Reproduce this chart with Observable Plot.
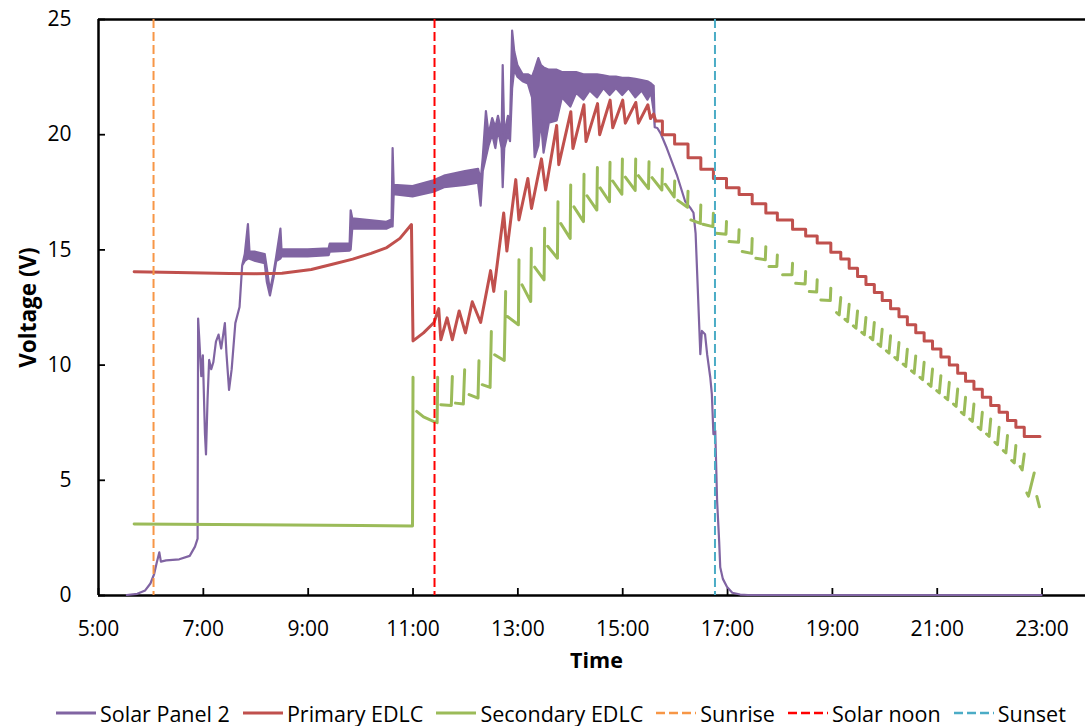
<!DOCTYPE html>
<html>
<head>
<meta charset="utf-8">
<script src="https://cdn.jsdelivr.net/npm/d3@7"></script>
<script src="https://cdn.jsdelivr.net/npm/@observablehq/plot@0.6"></script>
<style>
  html, body { margin: 0; padding: 0; background: #fff; overflow: hidden; }
  #wrap { position: relative; width: 1085px; height: 726px; overflow: hidden; font-family: "Open Sans", sans-serif; }
  #legend { position: absolute; left: 56px; top: 690px; height: 46px; display: flex; align-items: center; font-size: 21.5px; color: #000; white-space: nowrap; }
  #legend .item { display: flex; align-items: center; margin-right: 13px; }
  #legend svg { display: block; margin-right: 4px; }
</style>
</head>
<body>
<div id="wrap"><div id="chart"></div><div id="legend"></div></div>
<script>
// ---- Data (time in hours of day, voltage in V) ----
const xTicks = [5, 7, 9, 11, 13, 15, 17, 19, 21, 23];
const yTicks = [0, 5, 10, 15, 20, 25];

const sunrise = 6.05;
const solarNoon = 11.41;
const sunset = 16.76;

// Solar Panel 2: noisy band given as low / high envelope
const solarTime = [5.55, 5.75, 5.9, 6.0, 6.07, 6.12, 6.17, 6.20, 6.30, 6.55, 6.75, 6.85, 6.90, 6.91, 6.93, 6.97, 7.00, 7.04, 7.06, 7.09, 7.12, 7.16, 7.20, 7.25, 7.30, 7.35, 7.42, 7.45, 7.50, 7.55, 7.62, 7.70, 7.75, 7.80, 7.86, 7.89, 8.00, 8.18, 8.22, 8.28, 8.35, 8.40, 8.48, 8.50, 9.00, 9.40, 9.42, 9.80, 9.82, 9.85, 10.50, 10.60, 10.62, 10.64, 11.00, 11.40, 11.60, 12.00, 12.25, 12.30, 12.34, 12.40, 12.45, 12.52, 12.58, 12.63, 12.70, 12.72, 12.75, 12.82, 12.86, 12.90, 12.94, 13.00, 13.10, 13.20, 13.28, 13.33, 13.40, 13.45, 13.50, 13.60, 13.75, 13.85, 14.01, 14.12, 14.26, 14.38, 14.52, 14.64, 14.76, 14.88, 15.00, 15.12, 15.25, 15.37, 15.48, 15.55, 15.60, 15.62, 15.67, 15.73, 15.85, 16.04, 16.20, 16.30, 16.36, 16.40, 16.45, 16.49, 16.52, 16.58, 16.62, 16.68, 16.71, 16.74, 16.775, 16.81, 16.83, 16.85, 16.87, 16.92, 17.00, 17.10, 17.25, 17.40, 23.00];
const solarLow  = [0, 0.05, 0.2, 0.5, 0.9, 1.4, 1.85, 1.45, 1.5, 1.55, 1.7, 2.1, 2.45, 12.0, 11.2, 9.5, 10.4, 7.0, 6.1, 8.5, 10.2, 9.8, 10.1, 11.0, 11.3, 10.7, 11.8, 10.5, 8.9, 9.8, 11.8, 12.5, 14.3, 14.5, 14.6, 14.6, 14.5, 14.4, 13.6, 13.0, 13.8, 14.5, 14.6, 14.7, 14.7, 14.75, 14.9, 14.95, 15.0, 15.9, 15.9, 16.0, 16.0, 17.4, 17.3, 17.5, 17.7, 17.8, 17.9, 16.9, 18.4, 19.0, 19.5, 20.0, 19.4, 20.2, 19.4, 17.7, 19.4, 20.0, 19.7, 22.0, 22.8, 22.5, 22.3, 22.2, 21.6, 19.0, 19.5, 20.6, 19.2, 20.5, 20.6, 21.6, 21.2, 21.8, 21.5, 21.9, 21.6, 22.0, 21.7, 22.0, 21.7, 22.0, 21.6, 21.9, 21.5, 21.8, 21.0, 20.3, 20.27, 20.05, 19.4, 18.25, 17.09, 16.8, 16.59, 15.7, 12.8, 10.45, 11.46, 11.32, 10.45, 9.44, 8.72, 6.98, 7.13, 4.1, 3.2, 2.3, 1.2, 0.7, 0.35, 0.1, 0.02, 0, 0];
const solarHigh = [0, 0.05, 0.2, 0.5, 0.9, 1.4, 1.85, 1.45, 1.5, 1.55, 1.7, 2.1, 2.45, 12.0, 11.2, 9.5, 10.4, 7.0, 6.1, 8.5, 10.2, 9.8, 10.1, 11.0, 11.3, 10.7, 11.8, 10.5, 8.9, 9.8, 11.8, 12.5, 14.3, 14.8, 16.1, 14.9, 14.9, 14.8, 14.2, 13.2, 14.0, 14.7, 15.9, 15.0, 15.0, 15.05, 15.25, 15.25, 16.7, 16.35, 16.2, 16.3, 19.4, 17.8, 17.75, 18.0, 18.2, 18.4, 18.5, 18.0, 19.0, 21.0, 20.0, 20.7, 20.3, 20.8, 20.0, 23.0, 20.0, 20.8, 20.3, 24.5, 23.6, 23.0, 22.6, 22.6, 22.5, 22.8, 23.3, 23.0, 22.9, 22.8, 22.8, 22.7, 22.7, 22.7, 22.6, 22.6, 22.6, 22.55, 22.5, 22.5, 22.45, 22.45, 22.4, 22.35, 22.3, 22.2, 22.1, 20.3, 20.27, 20.05, 19.4, 18.25, 17.09, 16.8, 16.59, 15.7, 12.8, 10.45, 11.46, 11.32, 10.45, 9.44, 8.72, 6.98, 7.13, 4.1, 3.2, 2.3, 1.2, 0.7, 0.35, 0.1, 0.02, 0, 0];

// Primary EDLC: morning curve and midday sawtooth
const primaryTime = [5.68, 6.5, 7.5, 8.0, 8.5, 9.06, 9.5, 9.85, 10.2, 10.5, 10.75, 10.97, 11.0, 11.2, 11.40, 11.49, 11.53, 11.65, 11.75, 11.88, 12.0, 12.13, 12.29, 12.48, 12.54, 12.73, 12.79, 12.96, 13.02, 13.19, 13.26, 13.45, 13.53, 13.74, 13.78, 14.01, 14.05, 14.26, 14.30, 14.52, 14.56, 14.76, 14.81, 15.0, 15.05, 15.25, 15.30, 15.48, 15.53, 15.59, 15.63];
const primaryVolt = [14.05, 14.02, 13.98, 13.97, 13.99, 14.15, 14.4, 14.6, 14.85, 15.1, 15.5, 16.1, 11.05, 11.4, 11.85, 12.45, 11.1, 12.05, 11.1, 12.35, 11.4, 12.75, 11.85, 14.1, 13.2, 16.6, 14.95, 18.05, 16.3, 18.1, 16.8, 18.95, 17.6, 20.4, 18.7, 21.0, 19.4, 21.3, 19.7, 21.35, 20.0, 21.5, 20.3, 21.5, 20.5, 21.4, 20.5, 21.3, 20.7, 20.9, 20.6];
// Primary EDLC: afternoon / evening staircase
const primaryStepTime = [15.63, 15.757, 15.99, 16.246, 16.49, 16.73, 16.98, 17.22, 17.47, 17.73, 17.95, 18.24, 18.49, 18.71, 18.97, 19.16, 19.32, 19.48, 19.64, 19.80, 19.95, 20.11, 20.27, 20.43, 20.59, 20.75, 20.91, 21.07, 21.23, 21.39, 21.54, 21.70, 21.86, 22.02, 22.18, 22.34, 22.50, 22.66, 22.96];
const primaryStepVolt = [20.6, 20.0, 19.6, 19.0, 18.5, 18.1, 17.7, 17.4, 17.0, 16.6, 16.3, 15.9, 15.6, 15.3, 14.9, 14.6, 14.2, 13.85, 13.5, 13.15, 12.8, 12.45, 12.1, 11.75, 11.4, 11.05, 10.7, 10.35, 10.0, 9.65, 9.3, 8.95, 8.6, 8.25, 7.95, 7.6, 7.3, 6.9, 6.9];

// Secondary EDLC: pieces separated by null (gaps in the record)
const secondaryTime = [5.68, 8.0, 10.0, 10.99, 11.0, null,
  11.07, 11.2, 11.40, 11.46, 11.47, null,
  11.53, 11.73, 11.75, null,
  11.81, 11.96, 11.985, null,
  12.07, 12.24, 12.258, null,
  12.32, 12.47, 12.494, null,
  12.557, 12.74, 12.767, null,
  12.80, 13.01, 13.021, null,
  13.08, 13.245, 13.257, null,
  13.32, 13.50, 13.511, null,
  13.57, 13.755, 13.765, null,
  13.82, 13.998, 14.008, null,
  14.07, 14.252, 14.262, null,
  14.32, 14.507, 14.517, null,
  14.57, 14.748, 14.758, null,
  14.81, 14.984, 14.994, null,
  15.05, 15.238, 15.248, null,
  15.30, 15.492, 15.502, null,
  15.56, 15.747, 15.757, null,
  15.81, 15.982, 15.992, null,
  16.05, 16.236, 16.246, null,
  16.30, 16.48, 16.49, null,
  16.53, 16.72, 16.73, null,
  16.78, 16.97, 16.98, null,
  17.03, 17.21, 17.22, null,
  17.28, 17.46, 17.47, null,
  17.54, 17.72, 17.73, null,
  17.79, 17.94, 17.95, null,
  18.05, 18.23, 18.24, null,
  18.30, 18.48, 18.49, null,
  18.56, 18.70, 18.71, null,
  18.78, 18.96, 18.97, null,
  19.08, 19.13, 19.16, null,
  19.24, 19.29, 19.32, null,
  19.40, 19.45, 19.48, null,
  19.56, 19.61, 19.64, null,
  19.72, 19.77, 19.80, null,
  19.87, 19.92, 19.95, null,
  20.03, 20.08, 20.11, null,
  20.19, 20.24, 20.27, null,
  20.35, 20.40, 20.43, null,
  20.51, 20.56, 20.59, null,
  20.67, 20.72, 20.75, null,
  20.83, 20.88, 20.91, null,
  20.99, 21.04, 21.07, null,
  21.15, 21.20, 21.23, null,
  21.31, 21.36, 21.39, null,
  21.46, 21.51, 21.54, null,
  21.62, 21.67, 21.70, null,
  21.78, 21.83, 21.86, null,
  21.94, 21.99, 22.02, null,
  22.10, 22.15, 22.18, null,
  22.26, 22.31, 22.34, null,
  22.42, 22.47, 22.50, null,
  22.58, 22.62, 22.66, null,
  22.71, 22.74, 22.85, null,
  22.90, 22.95];
const secondaryVolt = [3.10, 3.07, 3.04, 3.02, 9.47, null,
  7.99, 7.75, 7.55, 7.50, 9.47, null,
  8.28, 8.25, 9.51, null,
  8.35, 8.31, 9.80, null,
  8.72, 8.57, 10.19, null,
  9.15, 9.03, 11.46, null,
  10.45, 10.2, 13.19, null,
  12.11, 11.75, 14.57, null,
  13.48, 12.76, 15.07, null,
  14.25, 13.70, 15.94, null,
  15.16, 14.64, 17.09, null,
  16.14, 15.50, 17.82, null,
  16.87, 16.23, 18.28, null,
  17.35, 16.73, 18.58, null,
  17.69, 17.09, 18.80, null,
  17.99, 17.42, 18.94, null,
  18.16, 17.58, 18.94, null,
  18.22, 17.66, 18.83, null,
  18.14, 17.60, 18.51, null,
  17.85, 17.30, 17.99, null,
  17.15, 16.85, 17.55, null,
  16.30, 16.15, 16.95, null,
  16.11, 16.01, 16.59, null,
  15.72, 15.68, 16.23, null,
  15.36, 15.33, 15.87, null,
  14.93, 14.85, 15.50, null,
  14.64, 14.57, 15.14, null,
  14.28, 14.28, 14.78, null,
  13.92, 13.92, 14.42, null,
  13.55, 13.52, 14.06, null,
  13.19, 13.17, 13.70, null,
  12.83, 12.80, 13.34, null,
  12.28, 12.18, 12.93, null,
  11.99, 11.89, 12.64, null,
  11.70, 11.60, 12.35, null,
  11.42, 11.32, 12.07, null,
  11.20, 11.10, 11.85, null,
  10.91, 10.81, 11.56, null,
  10.62, 10.52, 11.27, null,
  10.33, 10.23, 10.98, null,
  10.04, 9.94, 10.69, null,
  9.75, 9.65, 10.40, null,
  9.47, 9.37, 10.12, null,
  9.18, 9.08, 9.83, null,
  8.89, 8.79, 9.54, null,
  8.60, 8.50, 9.25, null,
  8.31, 8.21, 8.96, null,
  7.95, 7.85, 8.60, null,
  7.66, 7.56, 8.31, null,
  7.30, 7.20, 7.95, null,
  7.01, 6.91, 7.66, null,
  6.65, 6.55, 7.30, null,
  6.29, 6.19, 6.94, null,
  5.86, 5.76, 6.51, null,
  5.60, 5.45, 6.14, null,
  4.45, 4.31, 5.32, null,
  4.30, 3.85];

const seriesNames = ["Solar Panel 2", "Primary EDLC", "Secondary EDLC", "Sunrise", "Solar noon", "Sunset"];
const seriesColors = ["#8064A2", "#C0504D", "#9BBB59", "#F79646", "#FF0000", "#4BACC6"];
const seriesDashed = [false, false, false, true, true, true];

// ---- Tables built from the arrays ----
const solar = solarTime.map((t, i) => ({t, lo: solarLow[i], hi: solarHigh[i]}));
const primary = primaryTime.map((t, i) => ({t, v: primaryVolt[i]}));
const primarySteps = primaryStepTime.map((t, i) => ({t, v: primaryStepVolt[i]}));
const secondary = secondaryTime.map((t, i) => ({t, v: secondaryVolt[i]}));
const dash = "9,4";

const W = 1094, H = 690, ML = 98, MR = 0, MT = 19, MB = 95, TICK = 7;

const chart = Plot.plot({
  width: W,
  height: H,
  marginLeft: ML,
  marginRight: MR,
  marginTop: MT,
  marginBottom: MB,
  style: {fontFamily: "'Open Sans', sans-serif", fontSize: "21px", color: "#000", background: "#fff", maxWidth: "none", overflow: "visible"},
  x: {domain: [5, 24], label: null},
  y: {domain: [0, 25], label: null},
  marks: [
    Plot.axisX({ticks: xTicks, tickFormat: d => `${d}:00`, tickSize: 0, tickPadding: 26, label: null}),
    Plot.axisY({ticks: yTicks, tickSize: 0, tickPadding: 27, label: null}),
    // inward tick marks
    Plot.ruleX(xTicks, {stroke: "#000", strokeWidth: 1.8, insetTop: (H - MT - MB) - TICK}),
    Plot.ruleY(yTicks, {stroke: "#000", strokeWidth: 1.8, insetRight: (W - ML - MR) - TICK}),
    Plot.ruleY([0], {stroke: "#000", strokeWidth: 2.5}),
    Plot.ruleY([25], {stroke: "#000", strokeWidth: 2.5}),
    Plot.ruleX([5], {stroke: "#000", strokeWidth: 2.5}),
    Plot.areaY(solar, {x: "t", y1: "lo", y2: "hi", fill: seriesColors[0], stroke: seriesColors[0], strokeWidth: 2.2, strokeLinejoin: "round"}),
    Plot.line(primary, {x: "t", y: "v", stroke: seriesColors[1], strokeWidth: 3, strokeLinejoin: "round", strokeLinecap: "round"}),
    Plot.line(primarySteps, {x: "t", y: "v", curve: "step-after", stroke: seriesColors[1], strokeWidth: 3, strokeLinejoin: "round", strokeLinecap: "round"}),
    Plot.line(secondary, {x: "t", y: "v", stroke: seriesColors[2], strokeWidth: 3, strokeLinejoin: "round", strokeLinecap: "round"}),
    Plot.ruleX([sunrise], {stroke: seriesColors[3], strokeWidth: 2, strokeDasharray: dash}),
    Plot.ruleX([solarNoon], {stroke: seriesColors[4], strokeWidth: 2, strokeDasharray: dash}),
    Plot.ruleX([sunset], {stroke: seriesColors[5], strokeWidth: 2, strokeDasharray: dash}),
    Plot.text(["Time"], {frameAnchor: "bottom", dy: 66, lineAnchor: "middle", textAnchor: "middle", fontWeight: "bold", fontSize: 21.5}),
    Plot.text(["Voltage (V)"], {frameAnchor: "left", dx: -70, rotate: -90, lineAnchor: "middle", textAnchor: "middle", fontWeight: "bold", fontSize: 22.5})
  ]
});
document.getElementById("chart").appendChild(chart);

// ---- Legend ----
const legend = document.getElementById("legend");
seriesNames.forEach((name, i) => {
  const item = document.createElement("div");
  item.className = "item";
  const dashAttr = seriesDashed[i] ? ' stroke-dasharray="9,4"' : "";
  const sw = seriesDashed[i] ? 2.5 : 3;
  item.innerHTML = `<svg width="40" height="10"><line x1="0" y1="5" x2="40" y2="5" stroke="${seriesColors[i]}" stroke-width="${sw}"${dashAttr}/></svg><span>${name}</span>`;
  legend.appendChild(item);
});
</script>
</body>
</html>
